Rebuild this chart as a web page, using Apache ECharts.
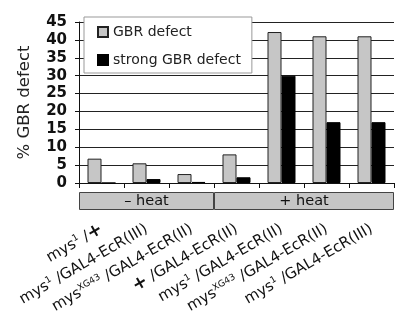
<!DOCTYPE html>
<html>
<head>
<meta charset="utf-8">
<script src="https://cdn.jsdelivr.net/npm/echarts@6/dist/echarts.min.js"></script>
<style>
  html, body { margin: 0; padding: 0; background: #fff; }
  #chart { width: 395px; height: 322px; }
</style>
</head>
<body>
<div id="chart"></div>
<script>
// genotypes: "^x" marks a superscript allele, "+" is the wild type
const categories = [
  "mys^1 /+",
  "mys^1 /GAL4-EcR(III)",
  "mys^XG43 /GAL4-EcR(II)",
  "+ /GAL4-EcR(II)",
  "mys^1 /GAL4-EcR(II)",
  "mys^XG43 /GAL4-EcR(II)",
  "mys^1 /GAL4-EcR(III)"
];
const gbrDefect = [6.8, 5.5, 2.5, 8.0, 42.2, 41.0, 41.0];
const strongGbrDefect = [0, 1.1, 0.3, 1.6, 30.0, 17.0, 17.0];
const yTicks = [0, 5, 10, 15, 20, 25, 30, 35, 40, 45];

// heat treatment groups and how many genotypes each covers
const heatGroups = ["– heat", "+ heat"];
const heatSpans = [3, 4];

const font = "DejaVu Sans";

function genotypeLabel(s) {
  // split into plain text, superscripts and bold "+"
  let out = "";
  const parts = s.split(/(\^\w+|\+)/);
  parts.forEach(p => {
    if (!p) return;
    if (p[0] === "^") out += "{s|" + p.slice(1) + "}";
    else if (p === "+") out += "{b|+}";
    else out += "{n|" + p + "}";
  });
  return out;
}

const chart = echarts.init(document.getElementById("chart"));

const heatSeries = heatGroups.map((g, i) => ({
  name: g,
  type: "bar",
  stack: "heat",
  xAxisIndex: 1,
  yAxisIndex: 1,
  barWidth: 18,
  data: [heatSpans[i]],
  silent: true,
  itemStyle: { color: "#c6c6c6", borderColor: "#444", borderWidth: 1 },
  label: {
    show: true,
    position: "inside",
    formatter: g,
    color: "#111",
    fontFamily: font,
    fontSize: 14.5
  }
}));

chart.setOption({
  animation: false,
  textStyle: { fontFamily: font },
  legend: {
    data: ["GBR defect", "strong GBR defect"],
    orient: "vertical",
    left: 84,
    top: 17,
    padding: [7, 11, 5, 13],
    itemWidth: 10,
    itemHeight: 10,
    itemGap: 12,
    backgroundColor: "#fff",
    borderColor: "#999",
    borderWidth: 1,
    icon: "rect",
    textStyle: { color: "#222", fontSize: 14, fontFamily: font, lineHeight: 16 }
  },
  grid: [
    { left: 79, right: 1, top: 22, bottom: 139 },
    { left: 79, right: 1, top: 192, height: 18 }
  ],
  xAxis: [
    {
      type: "category",
      gridIndex: 0,
      data: categories,
      axisLine: { lineStyle: { color: "#111", width: 1 } },
      axisTick: { show: true, length: 5, lineStyle: { color: "#111" } },
      axisLabel: {
        interval: 0,
        rotate: 30,
        margin: 45,
        formatter: v => genotypeLabel(v),
        rich: {
          n: { fontFamily: font, fontSize: 15, color: "#111" },
          s: { fontFamily: font, fontSize: 9, color: "#111", verticalAlign: "top", padding: [0, 0, 8, 0] },
          b: { fontFamily: font, fontSize: 18, fontWeight: "bold", color: "#111" }
        }
      }
    },
    { type: "value", gridIndex: 1, min: 0, max: 7, show: false }
  ],
  yAxis: [
    {
      type: "value",
      gridIndex: 0,
      min: 0,
      max: 45,
      interval: 5,
      name: "% GBR defect",
      nameLocation: "middle",
      nameGap: 46,
      nameTextStyle: { fontFamily: font, fontSize: 16.5, color: "#222" },
      axisLine: { show: true, lineStyle: { color: "#111", width: 1 } },
      axisTick: { show: true, length: 4, lineStyle: { color: "#111" } },
      axisLabel: {
        margin: 12,
        fontFamily: font,
        fontWeight: "bold",
        fontSize: 15,
        color: "#111",
        formatter: v => (yTicks.includes(v) ? String(v) : "")
      },
      splitLine: { show: true, lineStyle: { color: "#222", width: 1 } }
    },
    { type: "category", gridIndex: 1, data: ["heat"], show: false }
  ],
  series: [
    {
      name: "GBR defect",
      type: "bar",
      barWidth: 14,
      barGap: "0%",
      data: gbrDefect,
      itemStyle: { color: "#c6c6c6", borderColor: "#222", borderWidth: 1 }
    },
    {
      name: "strong GBR defect",
      type: "bar",
      barWidth: 14,
      barGap: "0%",
      data: strongGbrDefect,
      itemStyle: { color: "#000", borderColor: "#000", borderWidth: 1 }
    }
  ].concat(heatSeries)
});
</script>
</body>
</html>
